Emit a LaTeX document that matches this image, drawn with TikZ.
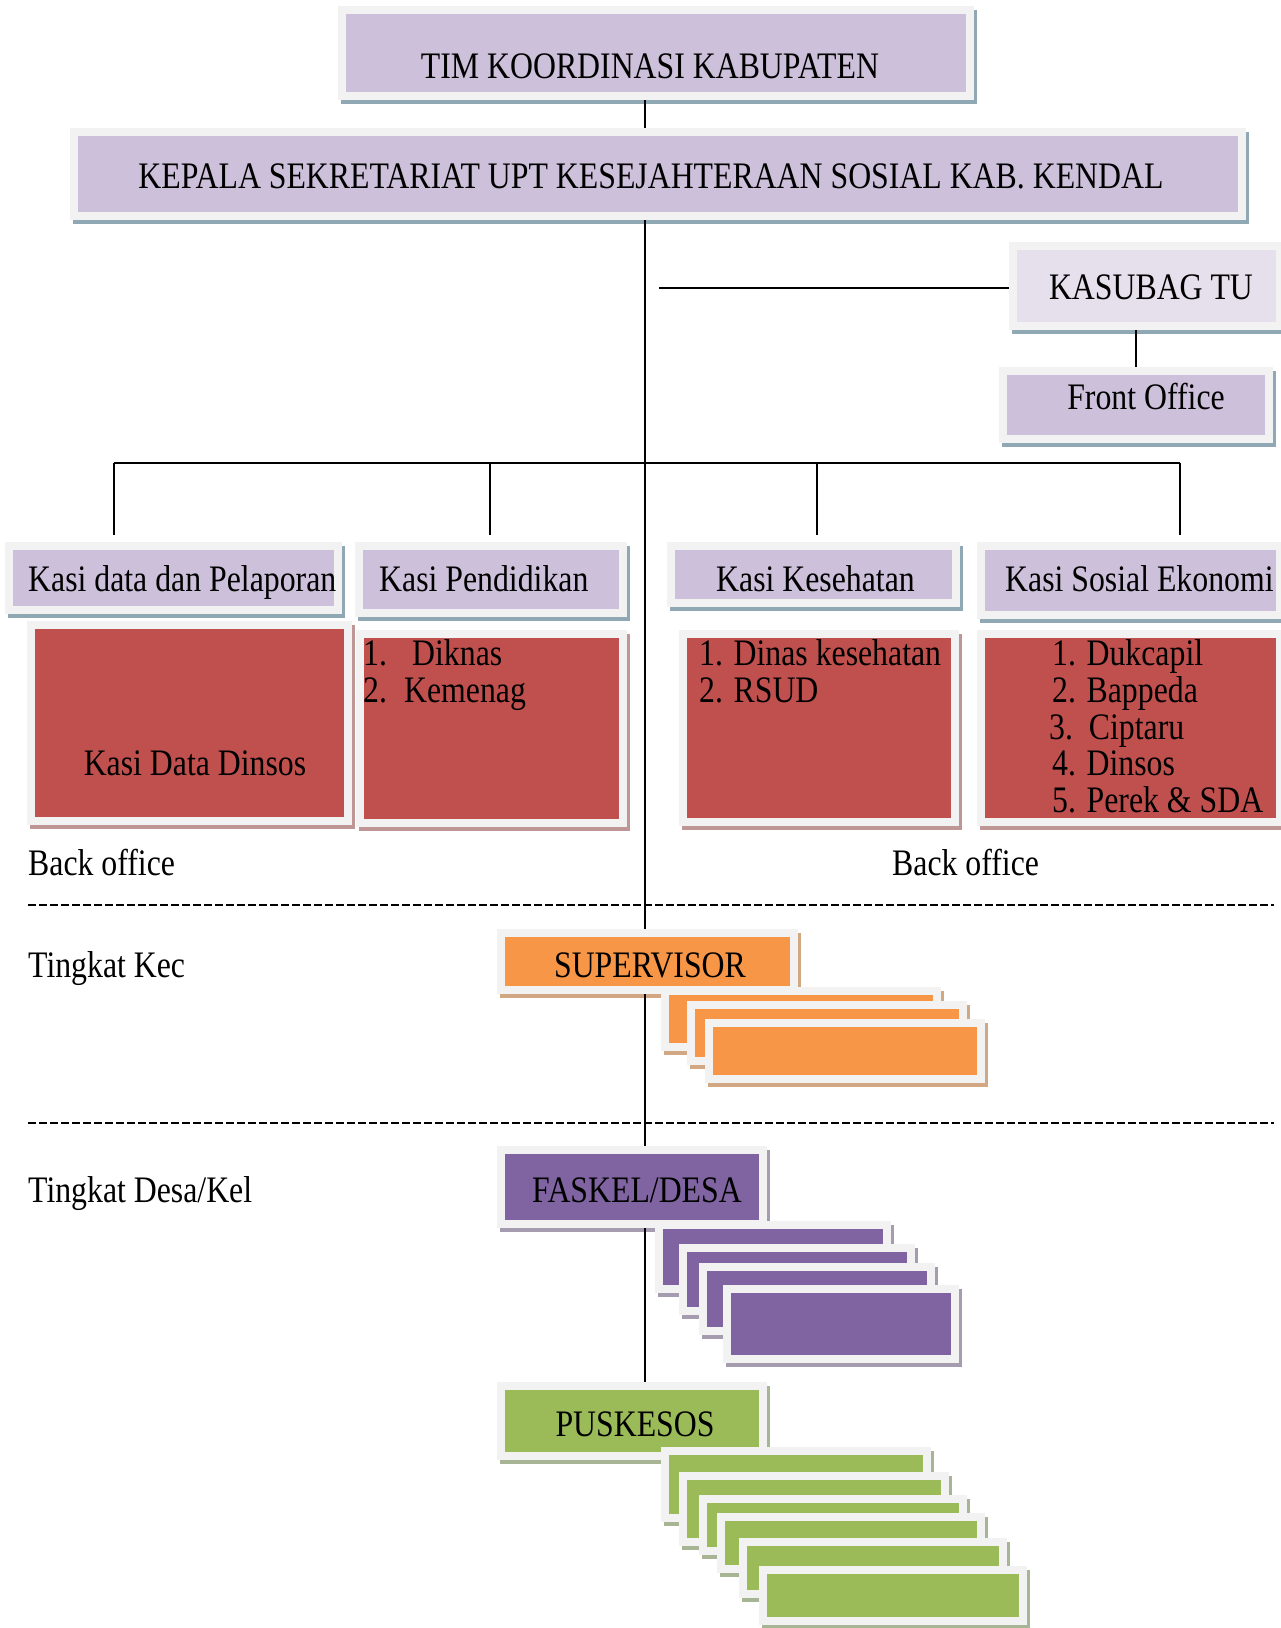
\documentclass[tikz,border=0pt]{standalone}
\usepackage{fontspec}
\setmainfont{Liberation Serif}[FakeStretch=0.85]
\usepackage{tikz}
\usetikzlibrary{calc}
\definecolor{lilac}{HTML}{CCC0DA}
\definecolor{palelilac}{HTML}{E5E0EC}
\definecolor{brick}{HTML}{C0504D}
\definecolor{tangerine}{HTML}{F79646}
\definecolor{grape}{HTML}{8064A2}
\definecolor{leaf}{HTML}{9BBB59}
\definecolor{framegray}{HTML}{F2F2F2}
\definecolor{shblue}{HTML}{90A8B4}
\definecolor{shred}{HTML}{BE9696}
\definecolor{shorange}{HTML}{D2A784}
\definecolor{shgrape}{HTML}{A59CB0}
\definecolor{shleaf}{HTML}{A8B595}
\tikzset{every node/.style={font=\fontsize{37.4}{36.7}\selectfont},
         orgbox/.style={rectangle, draw=framegray, line width=8pt, inner sep=0pt, outer sep=4pt},
         lefttext/.style={inner sep=0pt, anchor=base west},
         midtext/.style={inner sep=0pt, anchor=base},
         link/.style={line width=2pt},
         levelline/.style={line width=2pt, dash pattern=on 8pt off 3pt}}
\newcommand{\kotak}[7]{%
  \fill[#7] (#2+3,#3+4) rectangle (#4+3,#5+4);
  \node[orgbox, fill=#6, minimum width={#4-#2-8}, minimum height={#5-#3-8}] (#1) at ({(#2+#4)/2},{(#3+#5)/2}) {};}

\begin{document}
\begin{tikzpicture}[x=1pt,y=-1pt]
		\useasboundingbox (0,0) rectangle (1280,1628);
		\kotak{tim}{338}{6}{974}{100}{lilac}{shblue}
		\kotak{kepala}{70}{128}{1246}{220}{lilac}{shblue}
		\kotak{kasubag}{1009}{242}{1284}{330}{palelilac}{shblue}
		\kotak{front}{999}{367}{1273}{443}{lilac}{shblue}
		\kotak{kdata}{5}{542}{342}{614}{lilac}{shblue}
		\kotak{kdidik}{355}{542}{627}{617}{lilac}{shblue}
		\kotak{ksehat}{667}{542}{960}{607}{lilac}{shblue}
		\kotak{keko}{977}{542}{1284}{619}{lilac}{shblue}
		\kotak{rdata}{27}{621}{352}{825}{brick}{shred}
		\kotak{rdidik}{356}{630}{627}{827}{brick}{shred}
		\kotak{rsehat}{679}{630}{959}{826}{brick}{shred}
		\kotak{reko}{977}{630}{1284}{826}{brick}{shred}
		\kotak{super}{497}{929}{798}{994}{tangerine}{shorange}
		\foreach \n/\xa/\ya/\xb/\yb in {1/661/987/941/1051, 2/687/1001/967/1065, 3/705/1019/985/1083}
		  {\kotak{super\n}{\xa}{\ya}{\xb}{\yb}{tangerine}{shorange}}
		\kotak{faskel}{497}{1146}{767}{1228}{grape}{shgrape}
		\foreach \n/\xa/\ya/\xb/\yb in {1/655/1221/891/1293, 2/679/1244/915/1315, 3/699/1263/935/1335, 4/723/1285/959/1363}
		  {\kotak{faskel\n}{\xa}{\ya}{\xb}{\yb}{grape}{shgrape}}
		\kotak{puskesos}{497}{1382}{767}{1460}{leaf}{shleaf}
		\foreach \n/\xa/\ya/\xb/\yb in {1/661/1447/931/1522, 2/679/1472/949/1546, 3/699/1495/967/1555, 4/717/1513/985/1573, 5/739/1538/1007/1598, 6/759/1566/1027/1625}
		  {\kotak{puskesos\n}{\xa}{\ya}{\xb}{\yb}{leaf}{shleaf}}

		\node[midtext] (timtext) at (650,78) {TIM KOORDINASI KABUPATEN};
		\node[midtext] (kepalatext) at (651,188) {KEPALA SEKRETARIAT UPT KESEJAHTERAAN SOSIAL KAB. KENDAL};
		\node[midtext] (kasubagtext) at (1151,299) {KASUBAG TU};
		\node[midtext] (fronttext) at (1146,409) {Front Office};
		\node[lefttext] (kdatatext) at (28,591) {Kasi data dan Pelaporan};
		\node[lefttext] (kdidiktext) at (379,591) {Kasi Pendidikan};
		\node[lefttext] (ksehattext) at (716,591) {Kasi Kesehatan};
		\node[lefttext] (kekotext) at (1005,591) {Kasi Sosial Ekonomi};
		\node[midtext] (rdatatext) at (195,775) {Kasi Data Dinsos};
		\node[lefttext] (didik1) at (363,665) {\makebox[49pt][l]{1.}Diknas};
		\node[lefttext] (didik2) at (363,702) {\makebox[41pt][l]{2.}Kemenag};
		\node[lefttext] (sehat1) at (699,665) {1. Dinas kesehatan};
		\node[lefttext] (sehat2) at (699,702) {2. RSUD};
		\node[lefttext] (eko1) at (1052,665) {1. Dukcapil};
		\node[lefttext] (eko2) at (1052,702) {2. Bappeda};
		\node[lefttext] (eko3) at (1049,739) {3.\ \ Ciptaru};
		\node[lefttext] (eko4) at (1052,775) {4. Dinsos};
		\node[lefttext] (eko5) at (1052,812) {5. Perek \& SDA};
		\node[lefttext] (back1) at (28,875) {Back office};
		\node[lefttext] (back2) at (892,875) {Back office};
		\node[lefttext] (kec) at (28,977) {Tingkat Kec};
		\node[lefttext] (desa) at (28,1202) {Tingkat Desa/Kel};
		\node[midtext] (supertext) at (650,977) {SUPERVISOR};
		\node[midtext] (faskeltext) at (637,1202) {FASKEL/DESA};
		\node[midtext] (puskesostext) at (635,1436) {PUSKESOS};

		\coordinate (trunk) at (645,0);
		\coordinate (tuend) at (659,288);
		\coordinate (bus1) at (114,463);
		\coordinate (bus2) at (490,463);
		\coordinate (bus3) at (817,463);
		\coordinate (bus4) at (1180,463);
		\coordinate (dashL1) at (28,905);
		\coordinate (dashR1) at (1274,905);
		\coordinate (dashL2) at (28,1123);
		\coordinate (dashR2) at (1274,1123);
		\draw[link] (tim.south -| trunk) -- (kepala.north -| trunk);
		\draw[link] (kepala.south -| trunk) -- (super.north -| trunk);
		\draw[link] (super.south -| trunk) -- (faskel.north -| trunk);
		\draw[link] (faskel.south -| trunk) -- (puskesos.north -| trunk);
		\draw[link] (tuend) -- (tuend -| kasubag.west);
		\draw[link] (kasubag.south -| front.north) -- (front.north);
		\draw[link] (bus1) -- (bus4);
		\draw[link, shorten >=7pt] (bus1) -- (bus1 |- kdata.north);
		\draw[link, shorten >=7pt] (bus2) -- (bus2 |- kdidik.north);
		\draw[link, shorten >=7pt] (bus3) -- (bus3 |- ksehat.north);
		\draw[link, shorten >=7pt] (bus4) -- (bus4 |- keko.north);
		\draw[levelline] (dashL1) -- (dashR1);
		\draw[levelline] (dashL2) -- (dashR2);
	\end{tikzpicture}
\end{document}
